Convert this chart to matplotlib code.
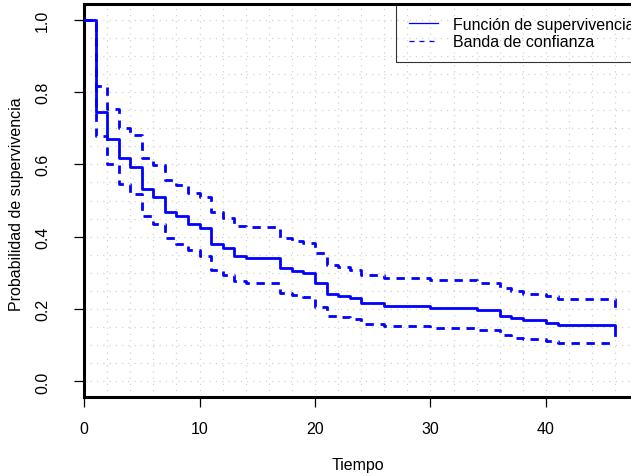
import matplotlib.pyplot as plt
from matplotlib.lines import Line2D
import numpy as np

plt.rcParams['font.family'] = ['Liberation Sans', 'DejaVu Sans']

# Kaplan-Meier estimate and confidence band (step values after each time)
times = [0, 1, 2, 3, 4, 5, 6, 7, 8, 9, 10, 11, 12, 13, 14, 17, 18, 19, 20, 21,
         22, 23, 24, 26, 30, 34, 36, 37, 38, 40, 41, 46]
surv = [1.0, 0.744, 0.670, 0.617, 0.592, 0.532, 0.511, 0.469, 0.457, 0.435,
        0.423, 0.381, 0.369, 0.347, 0.341, 0.314, 0.306, 0.300, 0.271, 0.243,
        0.236, 0.231, 0.217, 0.209, 0.203, 0.197, 0.182, 0.175, 0.169, 0.162,
        0.156, 0.127]
upper = [1.0, 0.816, 0.752, 0.701, 0.680, 0.617, 0.599, 0.558, 0.544, 0.522,
         0.509, 0.469, 0.453, 0.429, 0.426, 0.396, 0.389, 0.383, 0.354, 0.322,
         0.315, 0.309, 0.295, 0.287, 0.279, 0.272, 0.258, 0.250, 0.242, 0.235,
         0.227, 0.195]
lower = [1.0, 0.677, 0.600, 0.545, 0.519, 0.457, 0.436, 0.396, 0.381, 0.362,
         0.348, 0.308, 0.295, 0.277, 0.272, 0.245, 0.240, 0.233, 0.207, 0.182,
         0.177, 0.173, 0.159, 0.152, 0.147, 0.142, 0.128, 0.121, 0.117, 0.113,
         0.106, 0.106]

xticks = [0, 10, 20, 30, 40]
yticks = [0.0, 0.2, 0.4, 0.6, 0.8, 1.0]
labels = ['Función de supervivencia', 'Banda de confianza']

W, H = 631, 477
px_left, px_right, px_bottom, px_top = 84, 634, 398, 5
fs = 11.5
fig = plt.figure(figsize=(W / 100, H / 100), dpi=100)
ax = fig.add_axes([px_left / W, 1 - px_bottom / H,
                   (px_right - px_left) / W, (px_bottom - px_top) / H])

xmax = (px_right - px_left) / 11.55
ax.set_xlim(0, xmax)
ax.set_ylim(-0.043, 1.043)

# dotted background grid
grid_kw = dict(color='#d3d3d3', lw=0.9, linestyle=(0, (1, 4)), zorder=1)
for v in np.arange(0, 50, 2):
    ax.axvline(v, **grid_kw)
for h in np.arange(0, 1.001, 0.05):
    ax.axhline(h, **grid_kw)

blue = '#0000ff'
ax.step(times, surv, where='post', color=blue, lw=2, zorder=3)
ax.step(times, upper, where='post', color=blue, lw=2,
        linestyle=(0, (3, 2.4)), zorder=3)
ax.step(times, lower, where='post', color=blue, lw=2,
        linestyle=(0, (3, 2.4)), zorder=3)

for s in ax.spines.values():
    s.set_linewidth(2.2)
    s.set_color('black')

ax.set_xticks(xticks)
ax.set_xticklabels([str(t) for t in xticks])
ax.set_yticks(yticks)
ax.set_yticklabels([f'{t:.1f}' for t in yticks], rotation=90, va='center')
ax.tick_params(axis='both', length=7, width=0.9, labelsize=fs)
ax.tick_params(axis='x', pad=10.5)
ax.tick_params(axis='y', pad=17.5)

fig.text(358 / W, 1 - 466 / H, 'Tiempo', ha='center', va='center', fontsize=fs)
fig.text(17 / W, 1 - 204 / H, 'Probabilidad de supervivencia', rotation=90,
         ha='center', va='center', fontsize=fs)

handles = [Line2D([], [], color=blue, lw=0.9),
           Line2D([], [], color=blue, lw=0.9, linestyle=(0, (4, 4)))]
leg = ax.legend(handles, labels, loc='upper left',
                bbox_to_anchor=((396 - px_left) / (px_right - px_left), 1.0),
                frameon=True, fancybox=False, edgecolor='black',
                facecolor='none', borderpad=0.8, borderaxespad=0,
                handlelength=1.8, handletextpad=1.0, labelspacing=0.15,
                fontsize=fs)
leg.get_frame().set_linewidth(0.8)

fig.savefig('out.png', dpi=100)
